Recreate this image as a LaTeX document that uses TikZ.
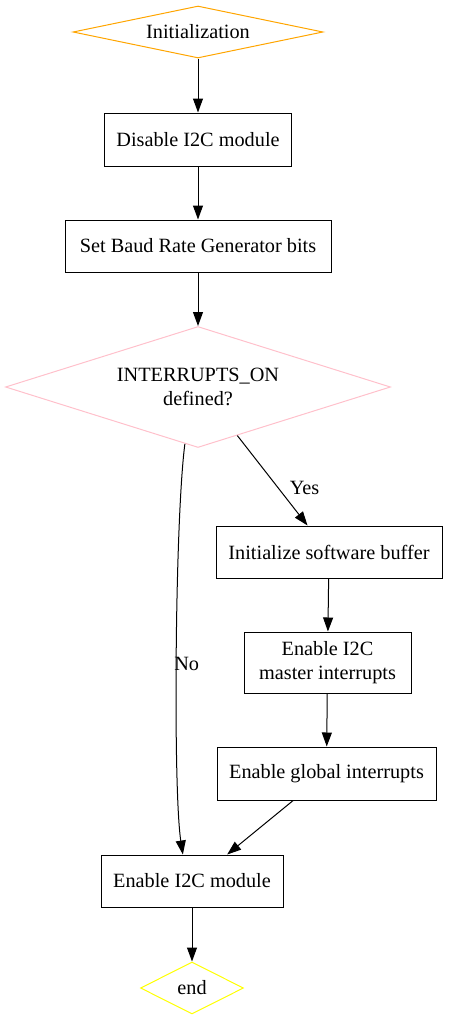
\documentclass[tikz,border=0pt]{standalone}
\usepackage{fontspec}
\setmainfont{Liberation Serif}
\usepackage{xcolor}
\usetikzlibrary{arrows.meta, positioning, calc, shapes.geometric}
\definecolor{gvorange}{RGB}{255,165,0}
\definecolor{gvpink}{RGB}{255,192,203}
\definecolor{gvyellow}{RGB}{255,255,0}

\begin{document}
\begin{tikzpicture}[
    x=0.75pt, y=-0.75pt,
    >={Triangle[length=10.5pt, width=7.5pt]},
    font=\fontsize{15.2}{17.5}\selectfont,
    line width=0.75pt,
    process/.style={draw, rectangle, inner sep=0pt, align=center},
    decision/.style={draw, diamond, inner sep=0pt, align=center},
    msg/.style={->, line width=0.75pt},
    lbl/.style={inner sep=1pt}
]
    \useasboundingbox (0,0) rectangle (449,1021);

    % --- Start ---
    \node[decision, draw=gvorange, aspect=4.8, minimum width=187.5pt, minimum height=39pt] (init) at (198,32) {Initialization};

    % --- Setup ---
    \node[process, minimum width=140.25pt, minimum height=39.75pt] (disable) at (198,139.5) {Disable I2C module};
    \node[process, minimum width=199.5pt, minimum height=39pt] (baud) at (198,246) {Set Baud Rate Generator bits};

    % --- Interrupt check ---
    \node[decision, draw=gvpink, aspect=3.18, minimum width=288.75pt, minimum height=90.75pt] (intq) at (198,387) {INTERRUPTS\_ON\\defined?};

    % --- Interrupt branch ---
    \node[process, minimum width=169.5pt, minimum height=39pt] (swbuf) at (329,552) {Initialize software buffer};
    \node[process, minimum width=125.25pt, minimum height=45.75pt] (mstint) at (327.5,662.5) {Enable I2C\\master interrupts};
    \node[process, minimum width=164.25pt, minimum height=39.75pt] (glbint) at (326.5,773.5) {Enable global interrupts};

    % --- Finish ---
    \node[process, minimum width=136.5pt, minimum height=39pt] (enable) at (192,881) {Enable I2C module};
    \node[decision, draw=gvyellow, aspect=2, minimum width=77.25pt, minimum height=39pt] (finish) at (192,988) {end};

    % --- Connectors ---
    \draw[msg] (init) -- (disable);
    \draw[msg] (disable) -- (baud);
    \draw[msg] (baud) -- (intq);
    \draw[msg] (intq.-51.5) -- node[pos=0.58, right=7.5pt, lbl] {Yes} (swbuf.129);
    \draw[msg] (intq.-103) .. controls (175,520) and (173,790) .. node[pos=0.52, right, lbl, xshift=-3pt] {No} (enable.109);
    \draw[msg] (swbuf) -- (mstint);
    \draw[msg] (mstint) -- (glbint);
    \draw[msg] (glbint.-141) -- (enable.37);
    \draw[msg] (enable) -- (finish);

\end{tikzpicture}
\end{document}
